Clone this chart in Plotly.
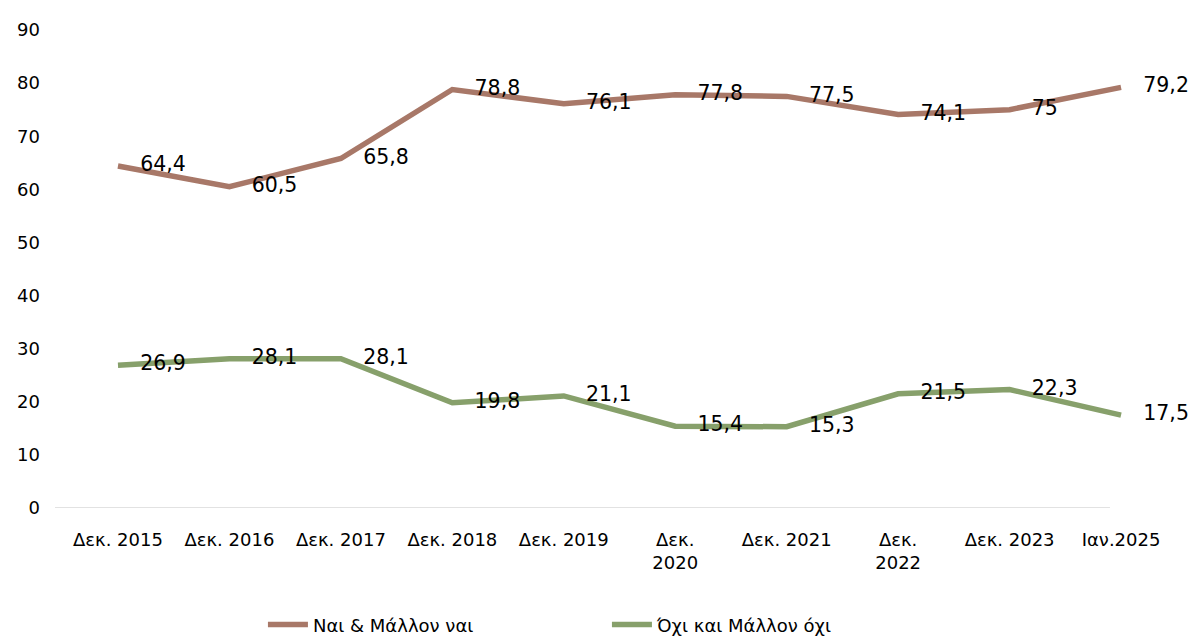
import plotly.graph_objects as go

categories = ["Δεκ. 2015", "Δεκ. 2016", "Δεκ. 2017", "Δεκ. 2018", "Δεκ. 2019",
              "Δεκ. 2020", "Δεκ. 2021", "Δεκ. 2022", "Δεκ. 2023", "Ιαν.2025"]
tick_labels = ["Δεκ. 2015", "Δεκ. 2016", "Δεκ. 2017", "Δεκ. 2018", "Δεκ. 2019",
               "Δεκ.<br>2020", "Δεκ. 2021", "Δεκ.<br>2022", "Δεκ. 2023", "Ιαν.2025"]
yes_values = [64.4, 60.5, 65.8, 78.8, 76.1, 77.8, 77.5, 74.1, 75, 79.2]
no_values = [26.9, 28.1, 28.1, 19.8, 21.1, 15.4, 15.3, 21.5, 22.3, 17.5]

FONT = "DejaVu Sans"


def fmt(v):
    # Greek decimal comma, drop trailing .0
    s = f"{v:g}"
    return s.replace(".", ",")


fig = go.Figure()

series = [
    ("Ναι & Μάλλον ναι", yes_values, "#A87868"),
    ("Όχι και Μάλλον όχι", no_values, "#87A06B"),
]
for name, vals, color in series:
    # the line itself (legend entry)
    fig.add_trace(go.Scatter(
        x=categories,
        y=vals,
        name=name,
        mode="lines",
        line=dict(color=color, width=5.5),
        hoverinfo="skip",
    ))
    # data labels, pushed right by an invisible marker
    fig.add_trace(go.Scatter(
        x=categories,
        y=vals,
        mode="markers+text",
        marker=dict(size=34, opacity=0, color=color),
        text=[fmt(v) for v in vals],
        textposition="middle right",
        textfont=dict(family=FONT, size=20.5, color="#000000"),
        cliponaxis=False,
        showlegend=False,
    ))

# baseline under the categories
fig.add_shape(type="line", xref="paper", yref="y", x0=0, x1=0.9386, y0=0, y1=0,
              line=dict(color="#D9D9D9", width=1.5), layer="below")

fig.update_layout(
    width=1189,
    height=637,
    margin=dict(l=55, r=10, t=30, b=129),
    paper_bgcolor="white",
    plot_bgcolor="white",
    font=dict(family=FONT, size=18, color="#000000"),
    showlegend=True,
    legend=dict(
        orientation="h",
        x=0.185, xanchor="left",
        yref="container",
        y=0.019, yanchor="middle",
        font=dict(family=FONT, size=18),
        entrywidth=289,
        itemwidth=40,
    ),
)

fig.update_xaxes(
    type="category",
    range=[-0.565, 9.52],
    tickvals=categories,
    ticktext=tick_labels,
    showgrid=False,
    showline=False,
    zeroline=False,
    ticks="",
    ticklabelstandoff=19,
    automargin=False,
)
fig.update_yaxes(
    range=[0, 90],
    tickvals=list(range(0, 91, 10)),
    showgrid=False,
    showline=False,
    zeroline=False,
    ticks="",
    ticklabelstandoff=14,
    automargin=False,
)

# remove the default 8px page margin so the chart sits flush in the window
fig.write_html("out.html", config={"displayModeBar": False},
               post_script="document.body.style.margin='0';")
